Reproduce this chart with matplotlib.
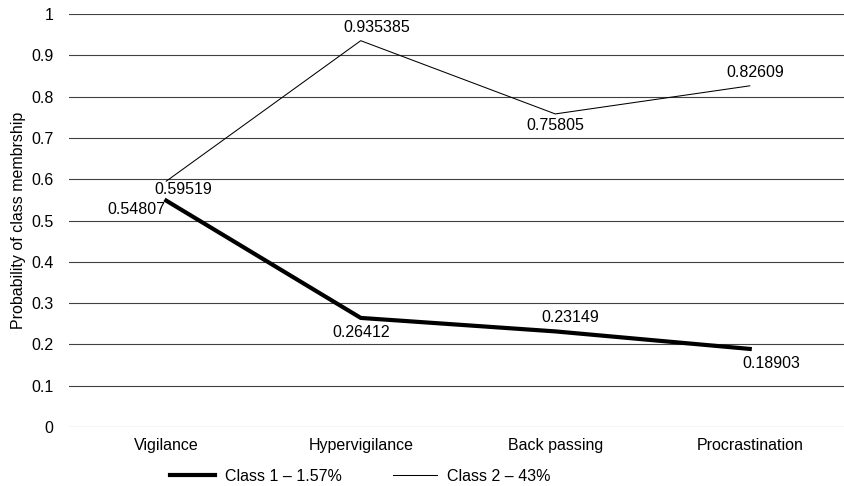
import numpy as np
import matplotlib.pyplot as plt

plt.rcParams['font.family'] = ['Liberation Sans', 'DejaVu Sans']

categories = ['Vigilance', 'Hypervigilance', 'Back passing', 'Procrastination']
class1 = [0.54807, 0.26412, 0.23149, 0.18903]
class2 = [0.59519, 0.935385, 0.75805, 0.82609]
class1_labels = ['0.54807', '0.26412', '0.23149', '0.18903']
class2_labels = ['0.59519', '0.935385', '0.75805', '0.82609']

fig = plt.figure(figsize=(8.44, 4.86), dpi=100)
ax = fig.add_axes([69 / 844, 1 - 427 / 486, 778 / 844, 413 / 486])

x = np.arange(len(categories))
l1, = ax.plot(x, class1, color='black', linewidth=3, label='Class 1 \u2013 1.57%')
l2, = ax.plot(x, class2, color='black', linewidth=0.75, label='Class 2 \u2013 43%')

# label offsets in points (dx, dy)
off1 = [(-21.5, -6.5), (0, -10.8), (10.8, 10), (15.8, -10.8)]
off2 = [(12.2, -5.8), (11.5, 9.4), (0, -8.6), (3.6, 9.4)]
for i in range(len(x)):
    ax.annotate(class1_labels[i], (x[i], class1[i]), xytext=off1[i],
                textcoords='offset points', ha='center', va='center', fontsize=11.5)
    ax.annotate(class2_labels[i], (x[i], class2[i]), xytext=off2[i],
                textcoords='offset points', ha='center', va='center', fontsize=11.5)

ax.set_xlim(-0.5, 3.5)
ax.set_ylim(0, 1)
ax.set_yticks(np.arange(0, 1.01, 0.1))
ax.set_yticklabels(['0', '0.1', '0.2', '0.3', '0.4', '0.5', '0.6', '0.7', '0.8', '0.9', '1'])
ax.set_xticks(x)
ax.set_xticklabels(categories)
ax.tick_params(axis='both', length=0, labelsize=11.5)
ax.tick_params(axis='y', pad=11)
ax.tick_params(axis='x', pad=8)
ax.grid(axis='y', color='#404040', linewidth=0.8)
ax.set_axisbelow(True)
for s in ax.spines.values():
    s.set_visible(False)
ax.set_ylabel('Probability of class membrship', fontsize=11.5, labelpad=4)

fig.legend(handles=[l1, l2], loc='center', bbox_to_anchor=(0.427, 1 - 476 / 486),
           ncol=2, frameon=False, fontsize=11.5, handlelength=2.8,
           handletextpad=0.6, columnspacing=3.2)

fig.savefig('out.png', dpi=100)
